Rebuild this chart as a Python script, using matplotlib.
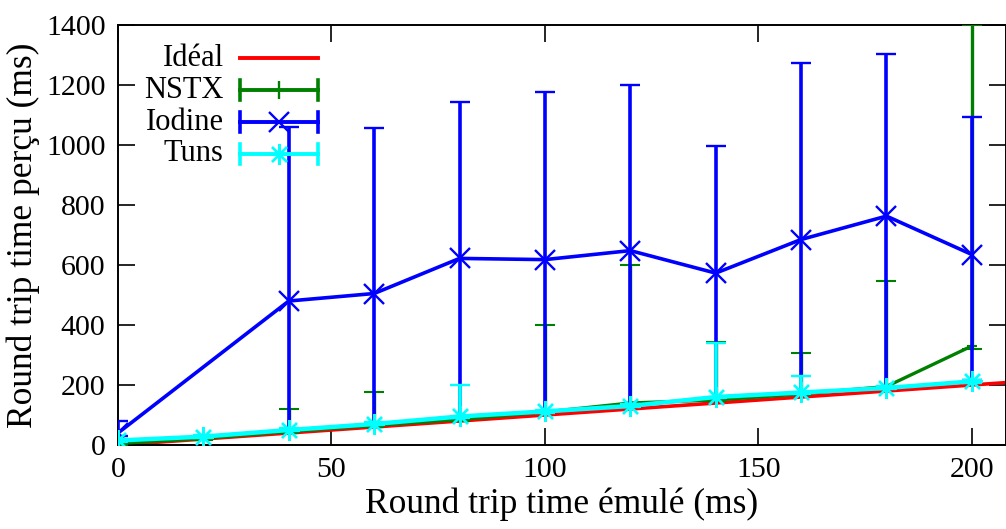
import numpy as np
import matplotlib
matplotlib.use("Agg")
import matplotlib.pyplot as plt

plt.rcParams['font.family'] = ['Liberation Serif', 'DejaVu Serif']

# emulated round trip times (ms)
x_ideal = [0, 208]
x_all = [0, 20, 40, 60, 80, 100, 120, 140, 160, 180, 200]
x_iodine = [0, 40, 60, 80, 100, 120, 140, 160, 180, 200]

# NSTX
nstx_mean = [5, 22, 45, 65, 85, 110, 140, 150, 170, 195, 330]
nstx_low = [0, 18, 40, 60, 80, 105, 135, 145, 165, 190, 320]
nstx_high = [10, 26, 120, 178, 95, 400, 600, 343, 307, 547, 1400]

# Iodine
iodine_mean = [40, 480, 505, 622, 618, 648, 573, 685, 763, 635]
iodine_low = [30, 45, 65, 90, 110, 130, 155, 170, 190, 215]
iodine_high = [80, 1060, 1057, 1143, 1178, 1200, 997, 1273, 1305, 1093]

# Tuns
tuns_mean = [15, 28, 50, 70, 95, 112, 130, 160, 175, 190, 212]
tuns_low = [10, 23, 45, 65, 90, 107, 125, 155, 170, 185, 207]
tuns_high = [20, 33, 55, 75, 200, 117, 135, 340, 230, 195, 217]

RED = '#ff0000'
GREEN = '#008000'
BLUE = '#0000ff'
CYAN = '#00ffff'


def err(mean, low, high):
    mean = np.array(mean)
    return [mean - np.array(low), np.array(high) - mean]


fig = plt.figure(figsize=(10.06, 5.29), dpi=100)
ax = fig.add_axes([0.1173, 0.1588, 0.8827, 0.7939])

ax.plot(x_ideal, x_ideal, color=RED, lw=2.6, zorder=2)
ax.errorbar(x_all, nstx_mean, yerr=err(nstx_mean, nstx_low, nstx_high),
            color=GREEN, lw=2.4, elinewidth=2.4, capsize=7, capthick=2.6,
            marker='+', ms=7, mew=1.5, zorder=3)
ax.errorbar(x_iodine, iodine_mean, yerr=err(iodine_mean, iodine_low, iodine_high),
            color=BLUE, lw=2.6, elinewidth=2.6, capsize=7, capthick=2.6,
            marker='x', ms=15, mew=1.7, zorder=4)
ax.errorbar(x_all, tuns_mean, yerr=err(tuns_mean, tuns_low, tuns_high),
            color=CYAN, lw=3.2, elinewidth=2.6, capsize=7, capthick=2.6,
            marker=(8, 2, 0), ms=15, mew=1.7, zorder=5)

ax.set_xlim(0, 208)
ax.set_ylim(0, 1400)
ax.set_xticks([0, 50, 100, 150, 200])
ax.set_yticks(range(0, 1401, 200))
ax.tick_params(direction='in', length=12, width=1.2, labelsize=21.5,
               top=True, right=True, pad=9)
for s in ax.spines.values():
    s.set_linewidth(1.4)

ax.set_xlabel('Round trip time émulé (ms)', fontsize=25.5, labelpad=3)
ax.set_ylabel('Round trip time perçu (ms)', fontsize=25.5, labelpad=4)

# gnuplot-style key
rows = [
    ('Idéal', RED, None, False),
    ('NSTX', GREEN, '+', True),
    ('Iodine', BLUE, 'x', True),
    ('Tuns', CYAN, (8, 2, 0), True),
]
tr = ax.transAxes
for i, (name, col, mk, bars) in enumerate(rows):
    y = 0.921 - i * 0.076
    ax.text(0.119, y, name, transform=tr, ha='right', va='center', fontsize=22)
    ax.plot([0.137, 0.225], [y, y], transform=tr, color=col, lw=2.8, clip_on=False, zorder=6)
    if bars:
        for xe in (0.137, 0.225):
            ax.plot([xe, xe], [y - 0.024, y + 0.024], transform=tr, color=col, lw=2.6, zorder=6)
    if mk is not None:
        ax.plot([0.181], [y], transform=tr, color=col, marker=mk,
                ms=15 if mk != '+' else 13, mew=1.7, zorder=6)

fig.savefig('out.png', dpi=100)
